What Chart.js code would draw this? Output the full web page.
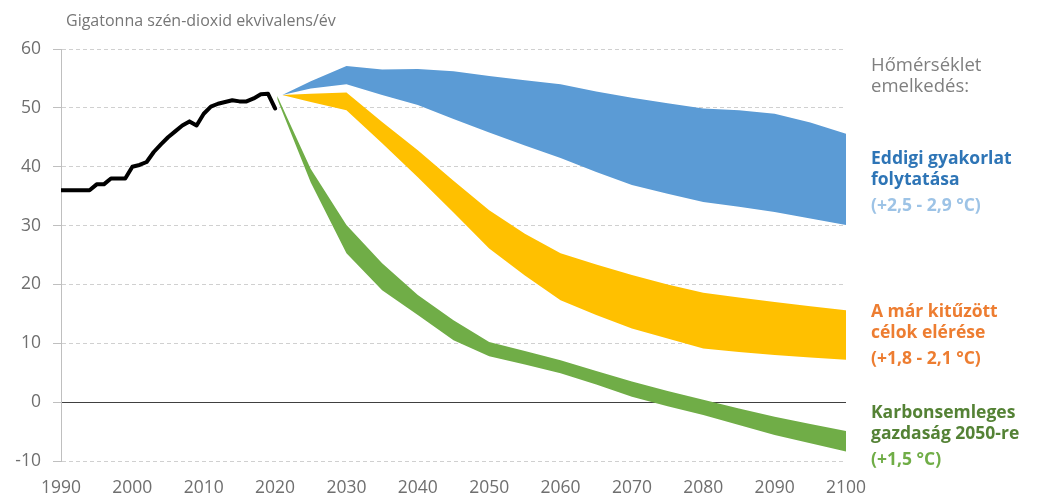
<!DOCTYPE html>
<html>
<head>
<meta charset="utf-8">
<script src="https://cdn.jsdelivr.net/npm/chart.js@4/dist/chart.umd.min.js"></script>
<style>
  body { margin: 0; background: #fff; }
  #wrap { position: relative; width: 1041px; height: 497px; font-family: "Open Sans", sans-serif; }
  #wrap canvas { position: absolute; left: 0; top: 0; }
  .txt { position: absolute; white-space: nowrap; }
  #title { left: 66px; top: 9px; font-size: 16px; color: #767676; }
  .note { left: 871px; font-size: 17.5px; line-height: 21px; }
  .note .sub { margin-top: 5px; }
</style>
</head>
<body>
<div id="wrap">
  <canvas id="chartJScanvas" width="1041" height="497"></canvas>
  <div class="txt" id="title">Gigatonna szén-dioxid ekvivalens/év</div>
  <div class="txt note" style="top:53px; font-size:18.5px; color:#7f7f7f;">Hőmérséklet<br>emelkedés:</div>
  <div class="txt note" style="top:147px; font-weight:bold; color:#2e75b6;">Eddigi gyakorlat<br>folytatása<div class="sub" style="color:#9dc3e6;">(+2,5 - 2,9 °C)</div></div>
  <div class="txt note" style="top:300px; font-weight:bold; color:#ed7d31;">A már kitűzött<br>célok elérése<div class="sub">(+1,8 - 2,1 °C)</div></div>
  <div class="txt note" style="top:401px; font-weight:bold; color:#548235;">Karbonsemleges<br>gazdaság 2050-re<div class="sub" style="color:#70ad47;">(+1,5 °C)</div></div>
</div>
<script>
  // historical emissions
  var histYears = [1990,1991,1992,1993,1994,1995,1996,1997,1998,1999,2000,2001,2002,2003,2004,2005,
                   2006,2007,2008,2009,2010,2011,2012,2013,2014,2015,2016,2017,2018,2019,2020];
  var histValues = [36,36,36,36,36,37,37,38,38,38,40,40.3,40.8,42.5,43.8,45,
                    46,47,47.7,47,49,50.2,50.7,51,51.3,51.1,51.1,51.6,52.3,52.4,49.9];

  // scenario bands (upper / lower edge)
  var bandYears = [2021,2025,2030,2035,2040,2045,2050,2055,2060,2065,2070,2075,2080,2085,2090,2095,2100];
  var blueUpper = [52.2,54.5,57.1,56.5,56.6,56.2,55.4,54.7,54.0,52.8,51.7,50.8,49.9,49.6,49.0,47.5,45.6];
  var blueLower = [52.2,53.3,54.0,52.2,50.5,48.1,45.8,43.6,41.5,39.1,36.9,35.4,34.0,33.2,32.3,31.2,30.1];
  var yellowUpper = [52.2,52.4,52.6,47.6,42.8,37.6,32.6,28.6,25.3,23.4,21.6,20.0,18.6,17.8,17.0,16.3,15.6];
  var yellowLower = [52.2,51.0,49.6,44.0,38.2,32.2,26.1,21.5,17.3,14.8,12.5,10.8,9.1,8.5,8.0,7.6,7.2];

  var greenYears = [2020.3,2025,2030,2035,2040,2045,2050,2055,2060,2065,2070,2075,2080,2085,2090,2095,2100];
  var greenUpper = [52.0,39.6,30.1,23.6,18.2,13.9,10.2,8.7,7.1,5.3,3.5,1.9,0.4,-1.1,-2.5,-3.7,-4.9];
  var greenLower = [51.5,37.3,25.3,19.0,14.8,10.5,7.8,6.4,4.9,3.0,0.9,-0.7,-2.2,-3.9,-5.6,-7.0,-8.4];

  var yTicks = [-10,0,10,20,30,40,50,60];
  var xTicks = [1990,2000,2010,2020,2030,2040,2050,2060,2070,2080,2090,2100];

  function toPoints(xs, ys) {
    var pts = [];
    for (var i = 0; i < xs.length; i++) pts.push({x: xs[i], y: ys[i]});
    return pts;
  }

  function band(xs, lower, upper, color) {
    return [
      { data: toPoints(xs, lower), borderWidth: 0, pointRadius: 0, fill: false },
      { data: toPoints(xs, upper), borderWidth: 0, pointRadius: 0, fill: '-1', backgroundColor: color }
    ];
  }

  var datasets = []
    .concat(band(bandYears, blueLower, blueUpper, '#5b9bd5'))
    .concat(band(bandYears, yellowLower, yellowUpper, '#ffc000'))
    .concat(band(greenYears, greenLower, greenUpper, '#70ad47'));
  datasets.push({
    data: toPoints(histYears, histValues),
    borderColor: '#000', borderWidth: 4, pointRadius: 0, fill: false,
    borderJoinStyle: 'round', borderCapStyle: 'round'
  });

  var ctx = document.getElementById("chartJScanvas").getContext('2d');
  var chartJSchart = new Chart(ctx, {
    type: 'line',
    data: { datasets: datasets },
    options: {
      responsive: false,
      animation: false,
      devicePixelRatio: 1,
      layout: { padding: { top: 49, right: 195, left: 0, bottom: 0 } },
      plugins: { legend: { display: false }, tooltip: { enabled: false } },
      elements: { line: { tension: 0 } },
      scales: {
        x: {
          type: 'linear', min: 1990, max: 2100,
          afterBuildTicks: function (s) { s.ticks = xTicks.map(function (v) { return {value: v}; }); },
          afterFit: function (s) { s.height = 36; },
          grid: { display: false, drawTicks: false },
          border: { display: false },
          ticks: {
            padding: 17, color: '#6f6f6f', maxRotation: 0,
            font: { family: 'Open Sans', size: 17.5 },
            callback: function (v) { return String(v); }
          }
        },
        y: {
          min: -10, max: 60,
          afterBuildTicks: function (s) { s.ticks = yTicks.map(function (v) { return {value: v}; }); },
          afterFit: function (s) { s.width = 61; },
          grid: {
            color: function (c) { return c.tick && c.tick.value === 0 ? '#404040' : '#d0d0d0'; },
            lineWidth: 1, tickLength: 8, tickColor: '#bfbfbf', tickBorderDash: []
          },
          border: {
            color: '#bfbfbf', width: 1,
            dash: function (c) { return (c.type === 'tick' && c.tick.value !== 0) ? [4, 3] : []; }
          },
          ticks: {
            padding: 12, color: '#6f6f6f',
            font: { family: 'Open Sans', size: 17.5 }
          }
        }
      }
    }
  });
</script>
</body>
</html>
